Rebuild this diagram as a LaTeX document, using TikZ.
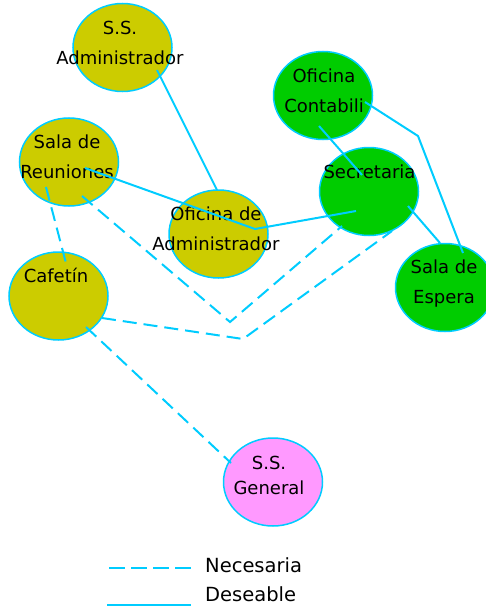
\documentclass[tikz,border=0pt]{standalone}
\usepackage{fontspec}
\setmainfont{DejaVu Sans}
\usetikzlibrary{shapes.geometric,positioning}
\definecolor{olivo}{RGB}{204,204,0}
\definecolor{verde}{RGB}{0,204,0}
\definecolor{rosa}{RGB}{255,153,255}
\definecolor{celeste}{RGB}{0,204,255}

\begin{document}
\begin{tikzpicture}[
  x=1pt, y=-1pt,
  sala/.style={draw=celeste, line width=1.5pt, ellipse, inner sep=0pt, minimum width=99pt, minimum height=88pt},
  rotulo/.style={align=center, anchor=base, inner sep=0pt, font=\fontsize{18}{30}\selectfont},
  deseable/.style={draw=celeste, line width=2pt},
  necesaria/.style={deseable, dash pattern=on 14pt off 7pt}
]
\useasboundingbox (0,0) rectangle (486,610);

% ambientes
\node[sala, fill=olivo] (ssadm) at (122.5,47.5) {};
\node[sala, fill=verde] (ofcont) at (323,95.5) {};
\node[sala, fill=olivo] (reun) at (69,162) {};
\node[sala, fill=verde] (secr) at (369,191.5) {};
\node[sala, fill=olivo] (ofadm) at (218.5,234) {};
\node[sala, fill=olivo] (cafe) at (58.5,296) {};
\node[sala, fill=verde] (espera) at (445,287.5) {};
\node[sala, fill=rosa] (general) at (273,482) {};

% base = ultima linea
\node[rotulo] (ssadm-t) at (120,64) {S.S.\\Administrador};
\node[rotulo] (ofcont-t) at (324,112) {Oficina\\Contabili};
\node[rotulo] (reun-t) at (67,178) {Sala de\\Reuniones};
\node[rotulo] (secr-t) at (369.5,178) {Secretaria};
\node[rotulo] (ofadm-t) at (216,250) {Oficina de\\Administrador};
\node[rotulo] (cafe-t) at (56,282) {Cafetín};
\node[rotulo] (espera-t) at (444,303) {Sala de\\Espera};
\node[rotulo, font=\fontsize{18}{25}\selectfont] (general-t) at (269,494) {S.S.\\General};

% puntos de union
\coordinate (a1) at (157,70);
\coordinate (a2) at (217,190);
\coordinate (r1) at (85,168);
\coordinate (o1) at (255,229);
\coordinate (s1) at (356,211);
\coordinate (c1) at (319,126);
\coordinate (s2) at (362,175);
\coordinate (c2) at (365,102);
\coordinate (q1) at (418,136);
\coordinate (e1) at (463,253);
\coordinate (s3) at (408,206);
\coordinate (e2) at (440,243);

\coordinate (r2) at (46,187);
\coordinate (f1) at (67,267);
\coordinate (r3) at (82,196);
\coordinate (q2) at (230,322);
\coordinate (s4) at (342,226);
\coordinate (f2) at (102,318);
\coordinate (q3) at (243,339);
\coordinate (s5) at (392,231);
\coordinate (f3) at (86,327);
\coordinate (g1) at (231,463);

\draw[deseable] (a1) -- (a2);
\draw[deseable] (r1) -- (o1) -- (s1);
\draw[deseable] (c1) -- (s2);
\draw[deseable] (c2) -- (q1) -- (e1);
\draw[deseable] (s3) -- (e2);

\draw[necesaria] (r2) -- (f1);
\draw[necesaria] (r3) -- (q2) -- (s4);
\draw[necesaria] (f2) -- (q3) -- (s5);
\draw[necesaria] (f3) -- (g1);

% leyenda
\coordinate (ln1) at (109,568);
\coordinate (ln2) at (191,568);
\coordinate (ld1) at (107,605);
\coordinate (ld2) at (191,605);
\draw[deseable, dash pattern=on 16pt off 6pt] (ln1) -- (ln2);
\draw[deseable] (ld1) -- (ld2);
\node[rotulo, anchor=base west, font=\fontsize{19.5}{20}\selectfont] (nec) at (205,572) {Necesaria};
\node[rotulo, anchor=base west, font=\fontsize{19.5}{20}\selectfont] (des) at (205,601) {Deseable};
\end{tikzpicture}
\end{document}
